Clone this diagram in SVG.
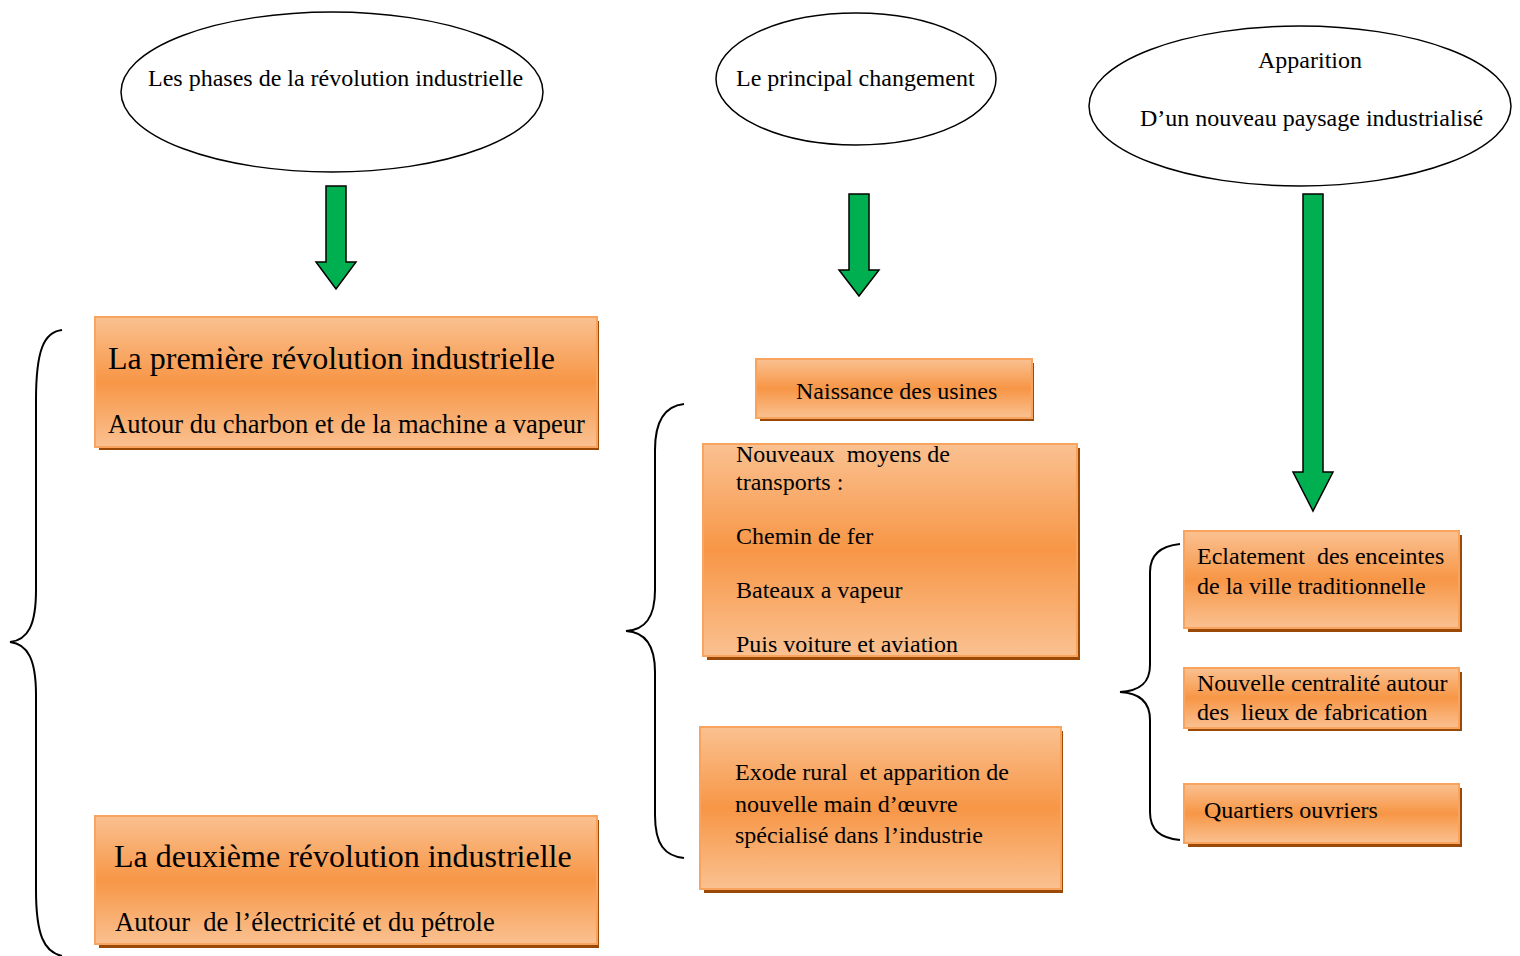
<svg xmlns="http://www.w3.org/2000/svg" width="1520" height="956" viewBox="0 0 1520 956">
<defs>
<linearGradient id="og" x1="0" y1="0" x2="0" y2="1">
<stop offset="0" stop-color="#FAC191"/>
<stop offset="0.5" stop-color="#F79646"/>
<stop offset="1" stop-color="#FAC191"/>
</linearGradient>
<style>
.box{fill:url(#og);stroke:#F8A35E;stroke-width:2}
.sh{fill:#9A4A06}
.ell{fill:#fff;stroke:#000;stroke-width:1.5}
.arr{fill:#00B050;stroke:#000;stroke-width:1.5;stroke-linejoin:miter}
.br{fill:none;stroke:#000;stroke-width:2}
text{font-family:"Liberation Serif","Times New Roman",serif;fill:#000;white-space:pre}
.t22{font-size:24px}
.t28{font-size:32px}
.t23{font-size:26.5px}
</style>
</defs>

<g id="ellipse-phases">
<ellipse class="ell" cx="332" cy="92" rx="211" ry="80"/>
<text class="t22" x="148" y="86">Les phases de la révolution industrielle</text>
</g>
<g id="ellipse-changement">
<ellipse class="ell" cx="856" cy="79" rx="140" ry="66"/>
<text class="t22" x="736" y="86">Le principal changement</text>
</g>
<g id="ellipse-paysage">
<ellipse class="ell" cx="1300" cy="106" rx="211" ry="80"/>
<text class="t22" x="1310" y="68" text-anchor="middle">Apparition</text>
<text class="t22" x="1140" y="126">D’un nouveau paysage industrialisé</text>
</g>

<g id="connectors">
<path class="arr" d="M326,186 H346 V262 H356 L336,289 L316,262 H326 Z"/>
<path class="arr" d="M849,194 H869 V270 H879 L859,296 L839,270 H849 Z"/>
<path class="arr" d="M1303,194 H1323 V472 H1333 L1313,511 L1293,472 H1303 Z"/>
<path class="br" d="M62,330 C44,332 36,350 36,400 V590 C36,625 28,640 10,642 C28,644 36,660 36,695 V890 C36,935 44,952 62,956"/>
<path class="br" d="M684,404 C665,406 655,420 655,450 V590 C655,618 645,630 626,631 C645,632 655,645 655,672 V815 C655,845 665,856 684,858"/>
<path class="br" d="M1180,544 C1160,546 1150,555 1150,572 V665 C1150,683 1140,691 1120,692 C1140,693 1150,702 1150,720 V812 C1150,830 1160,838 1180,840"/>
</g>

<g id="box-premiere">
<rect class="sh" x="99" y="321" width="500" height="129"/>
<rect class="box" x="95" y="317" width="502" height="130"/>
<text class="t28" x="108" y="369">La première révolution industrielle</text>
<text class="t23" x="108" y="433">Autour du charbon et de la machine a vapeur</text>
</g>
<g id="box-deuxieme">
<rect class="sh" x="99" y="820" width="500" height="128"/>
<rect class="box" x="95" y="816" width="502" height="128"/>
<text class="t28" x="114" y="867">La deuxième révolution industrielle</text>
<text class="t23" x="115" y="931">Autour  de l’électricité et du pétrole</text>
</g>
<g id="box-usines">
<rect class="sh" x="760" y="363" width="274" height="58"/>
<rect class="box" x="756" y="359" width="276" height="59"/>
<text class="t22" x="796" y="399">Naissance des usines</text>
</g>
<g id="box-transports">
<rect class="sh" x="707" y="448" width="373" height="212"/>
<rect class="box" x="703" y="444" width="374" height="212"/>
<text class="t22" x="736" y="462">Nouveaux  moyens de</text>
<text class="t22" x="736" y="490">transports :</text>
<text class="t22" x="736" y="544">Chemin de fer</text>
<text class="t22" x="736" y="598">Bateaux a vapeur</text>
<text class="t22" x="736" y="652">Puis voiture et aviation</text>
</g>
<g id="box-exode">
<rect class="sh" x="704" y="731" width="359" height="162"/>
<rect class="box" x="700" y="727" width="361" height="162"/>
<text class="t22" x="735" y="780">Exode rural  et apparition de</text>
<text class="t22" x="735" y="812">nouvelle main d’œuvre</text>
<text class="t22" x="735" y="843">spécialisé dans l’industrie</text>
</g>
<g id="box-eclatement">
<rect class="sh" x="1188" y="535" width="274" height="97"/>
<rect class="box" x="1184" y="531" width="275" height="97"/>
<text class="t22" x="1197" y="564">Eclatement  des enceintes</text>
<text class="t22" x="1197" y="594">de la ville traditionnelle</text>
</g>
<g id="box-centralite">
<rect class="sh" x="1188" y="672" width="274" height="59"/>
<rect class="box" x="1184" y="668" width="275" height="60"/>
<text class="t22" x="1197" y="691">Nouvelle centralité autour</text>
<text class="t22" x="1197" y="720">des  lieux de fabrication</text>
</g>
<g id="box-quartiers">
<rect class="sh" x="1188" y="788" width="274" height="59"/>
<rect class="box" x="1184" y="784" width="275" height="59"/>
<text class="t22" x="1204" y="818">Quartiers ouvriers</text>
</g>
</svg>
